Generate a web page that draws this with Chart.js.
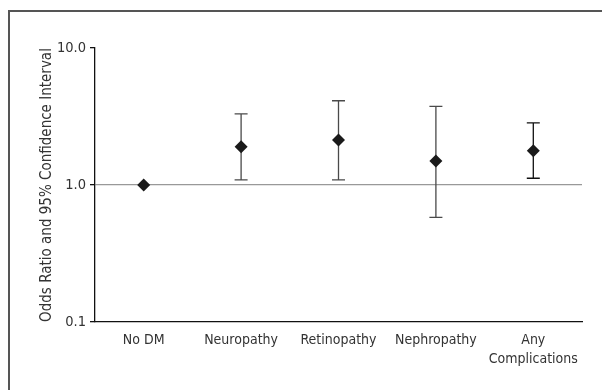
<!DOCTYPE html>
<html>
<head>
<meta charset="utf-8">
<script src="https://cdn.jsdelivr.net/npm/chart.js@4/dist/chart.umd.min.js"></script>
<style>
  html, body { margin: 0; padding: 0; background: #fff; overflow: hidden; }
  #wrap { position: relative; width: 602px; height: 390px; }
  #frame {
    position: absolute; left: 8px; top: 10px; width: 620px; height: 420px;
    border: 2px solid #555; box-sizing: border-box;
  }
  canvas { position: absolute; left: 0; top: 0; }
</style>
</head>
<body>
<div id="wrap">
  <div id="frame"></div>
  <canvas id="chart" width="602" height="390"></canvas>
</div>
<script>
// Chart data
var categories = ['No DM', 'Neuropathy', 'Retinopathy', 'Nephropathy', ['Any', 'Complications']];
var oddsRatio = [1.0, 1.90, 2.13, 1.50, 1.78];
var ciLower = [null, 1.09, 1.09, 0.58, 1.12];
var ciUpper = [null, 3.30, 4.12, 3.75, 2.84];
var barColors = ['#000', '#4a4a4a', '#4a4a4a', '#4a4a4a', '#111'];
var yTicks = [0.1, 1.0, 10.0];

var FONT = "'Liberation Sans Narrow', 'DejaVu Sans Condensed', sans-serif";

/**
 * Draw the confidence interval whiskers behind the points
 */
var errorBars = {
    id: 'errorBars',
    beforeDatasetsDraw: function(chart) {
        var ctx = chart.ctx;
        var x = chart.scales.x;
        var y = chart.scales.y;
        var cap = 6.5;
        ctx.save();
        ctx.lineWidth = 1.3;
        for (var i = 0; i < categories.length; i++) {
            if (ciLower[i] === null || ciUpper[i] === null) {
                continue;
            }
            var px = x.getPixelForValue(i);
            var lo = y.getPixelForValue(ciLower[i]);
            var hi = y.getPixelForValue(ciUpper[i]);
            ctx.strokeStyle = barColors[i];
            ctx.beginPath();
            ctx.moveTo(px, lo);
            ctx.lineTo(px, hi);
            ctx.moveTo(px - cap, lo);
            ctx.lineTo(px + cap, lo);
            ctx.moveTo(px - cap, hi);
            ctx.lineTo(px + cap, hi);
            ctx.stroke();
        }
        ctx.restore();
    }
};

new Chart(document.getElementById('chart'), {
    type: 'line',
    data: {
        labels: categories,
        datasets: [{
            data: oddsRatio,
            showLine: false,
            pointStyle: 'rectRot',
            pointRadius: 6.5,
            pointHoverRadius: 6.5,
            backgroundColor: '#1a1a1a',
            borderColor: '#1a1a1a',
            borderWidth: 0
        }]
    },
    options: {
        responsive: false,
        animation: false,
        events: [],
        layout: {
            padding: { left: 0, right: 20, top: 48, bottom: 0 }
        },
        plugins: {
            legend: { display: false },
            tooltip: { enabled: false }
        },
        scales: {
            x: {
                type: 'category',
                offset: true,
                grid: { display: false, drawTicks: false },
                border: { display: true, color: '#111', width: 1.3 },
                ticks: {
                    color: '#333',
                    padding: 9,
                    maxRotation: 0,
                    autoSkip: false,
                    font: { family: FONT, size: 14, lineHeight: 1.35 }
                },
                afterFit: function(scale) {
                    scale.height = 68;
                }
            },
            y: {
                type: 'logarithmic',
                min: 0.1,
                max: 10,
                afterBuildTicks: function(scale) {
                    scale.ticks = yTicks.map(function(v) {
                        return { value: v };
                    });
                },
                afterFit: function(scale) {
                    scale.width = 95;
                },
                border: { display: true, color: '#111', width: 1.3 },
                grid: {
                    drawOnChartArea: true,
                    drawTicks: true,
                    tickLength: 5,
                    tickColor: '#111',
                    lineWidth: 1.3,
                    color: function(c) {
                        return c.tick && c.tick.value === 1 ? '#999' : 'rgba(0,0,0,0)';
                    }
                },
                ticks: {
                    color: '#333',
                    padding: 4,
                    font: { family: FONT, size: 14.5 },
                    callback: function(v) {
                        return Number(v).toFixed(1);
                    }
                },
                title: {
                    display: true,
                    text: 'Odds Ratio and 95% Confidence Interval',
                    color: '#333',
                    font: { family: FONT, size: 15, lineHeight: 1.2 },
                    padding: { top: 38, bottom: 0 }
                }
            }
        }
    },
    plugins: [errorBars]
});
</script>
</body>
</html>
